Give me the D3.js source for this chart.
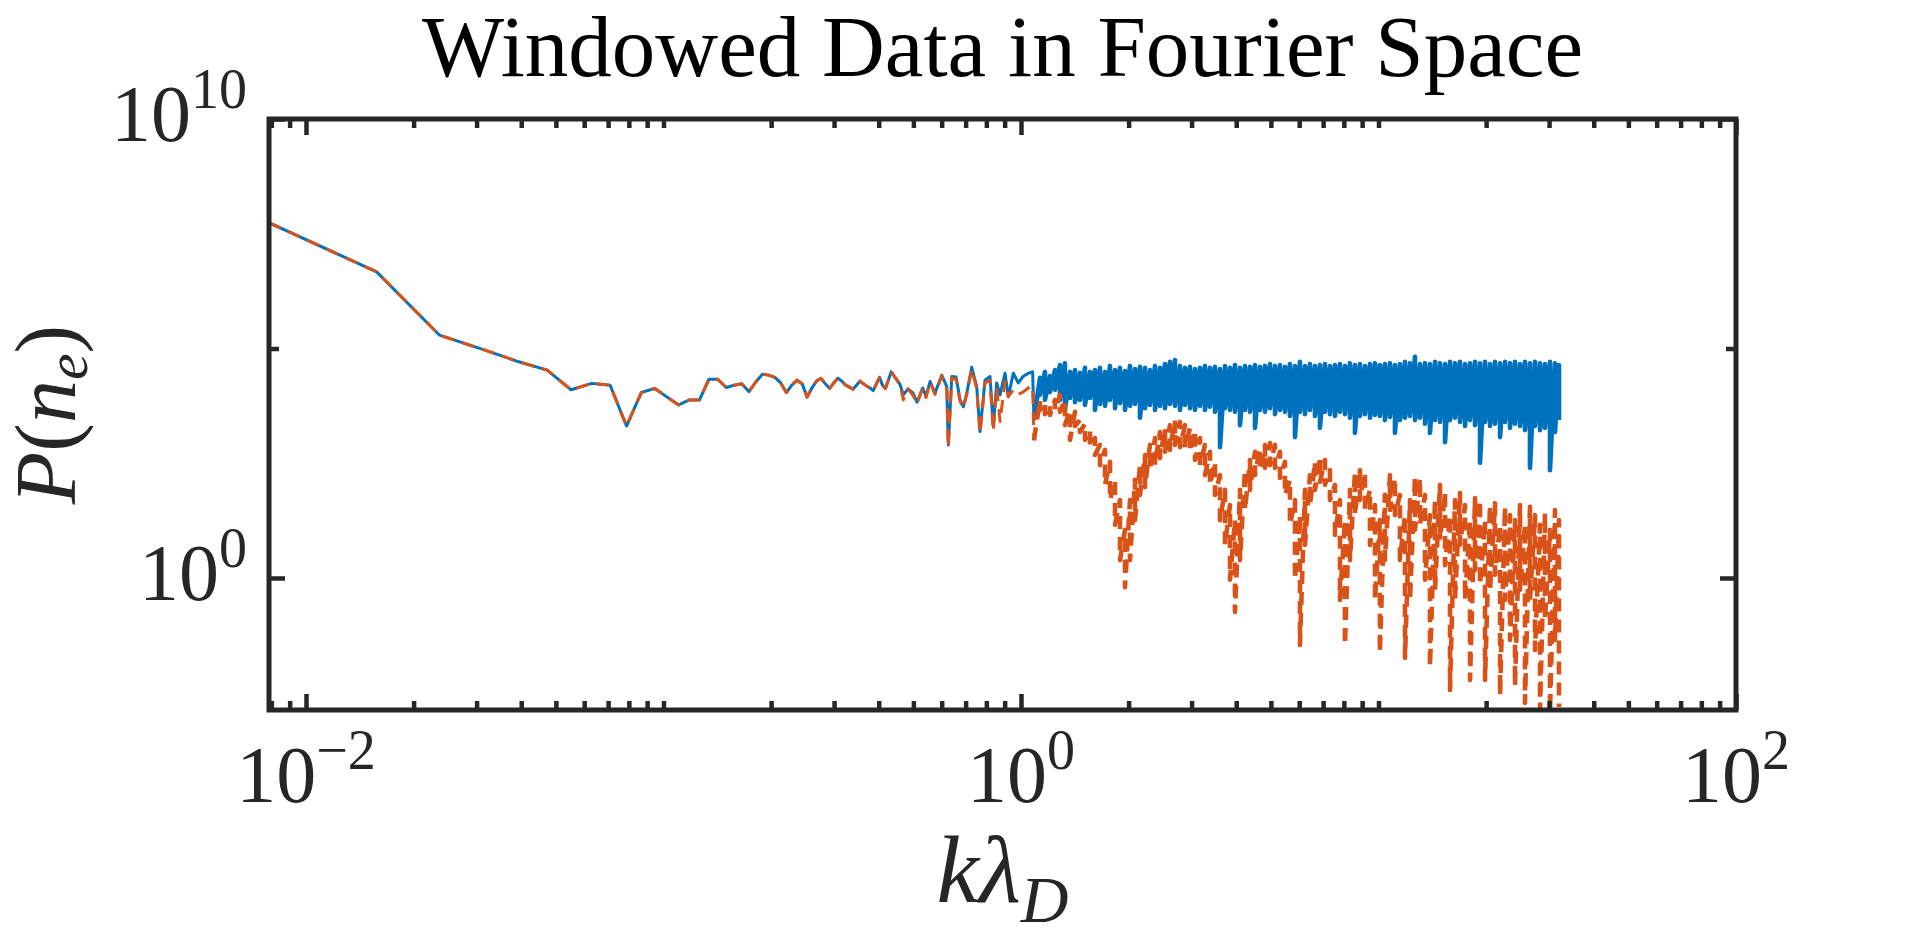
<!DOCTYPE html>
<html>
<head>
<meta charset="utf-8">
<script src="https://cdn.jsdelivr.net/npm/d3@7"></script>
<style>
  body { margin: 0; background: #fff; }
  svg text { font-family: "Liberation Serif", "Times New Roman", serif; fill: #262626; }
</style>
</head>
<body>
<svg width="1920" height="936"></svg>
<script>
// ---- data (k * lambda_D, and log10 of P(n_e)) ----

// low-k part, both curves identical
const sharedK = [0.00788, 0.01576, 0.02364, 0.03152, 0.0394, 0.04728, 0.05516, 0.06304, 0.07092, 0.0788,
  0.08668, 0.09456, 0.1024, 0.1103, 0.1182, 0.1261, 0.134, 0.1418, 0.1497, 0.1576,
  0.1655, 0.1734, 0.1812, 0.1891, 0.197, 0.2049, 0.2128, 0.2206, 0.2285, 0.2364,
  0.2443, 0.2522, 0.26, 0.2679, 0.2758, 0.2837, 0.2916, 0.2994, 0.3073, 0.3152,
  0.3231, 0.331, 0.3388, 0.3467, 0.3546, 0.3625, 0.3704, 0.3782, 0.3861, 0.394,
  0.4019, 0.4098, 0.4176, 0.4255, 0.4334];
const sharedLog10P = [7.74, 6.67, 5.29, 4.97, 4.71, 4.53, 4.10, 4.24, 4.20, 3.31,
  4.04, 4.13, 3.94, 3.77, 3.88, 3.88, 4.33, 4.33, 4.15, 4.20,
  4.23, 4.06, 4.27, 4.44, 4.42, 4.37, 4.25, 4.04, 4.20, 4.31,
  4.23, 3.94, 4.14, 4.29, 4.35, 4.23, 4.13, 4.25, 4.35, 4.29,
  4.20, 4.16, 4.11, 4.20, 4.29, 4.23, 4.18, 4.14, 4.08, 4.23,
  4.37, 4.20, 4.13, 4.31, 4.49];

// middle part, curves start to separate
const midK = [0.4586, 0.4686, 0.4830, 0.4988, 0.5119, 0.5309, 0.5424, 0.5567, 0.5748, 0.6003,
  0.6199, 0.6262, 0.6403, 0.6582, 0.6754, 0.6898, 0.7050, 0.7281, 0.7519, 0.7680,
  0.7932, 0.8191, 0.8366, 0.8551, 0.8737, 0.9020, 0.9215, 0.9517, 0.9826, 1.013,
  1.048, 1.078, 1.087];
const rawMidLog10P = [4.22, 3.99, 4.12, 4.03, 3.83, 4.14, 3.96, 4.28, 4.03, 4.42,
  4.17, 2.90, 4.39, 4.38, 3.88, 3.73, 4.02, 4.59, 4.17, 3.19,
  4.31, 4.39, 3.30, 4.25, 3.99, 4.46, 3.95, 4.46, 4.25, 4.39,
  4.46, 4.49, 3.44];
const windowedMidLog10P = [4.22, 3.88, 4.12, 3.98, 3.80, 4.14, 3.93, 4.26, 4.00, 4.40,
  4.12, 2.85, 4.35, 4.33, 3.85, 3.70, 4.00, 4.55, 4.12, 3.15,
  4.25, 4.30, 3.20, 4.15, 3.41, 4.28, 3.95, 4.10, 4.00, 4.05,
  4.14, 4.18, 3.00];

// high-k part is too dense to read point by point: max / min per bin
const binK = [1.130, 1.167, 1.205, 1.245, 1.285, 1.327, 1.371, 1.416, 1.462, 1.510,
  1.560, 1.610, 1.663, 1.718, 1.774, 1.832, 1.892, 1.954, 2.018, 2.084,
  2.152, 2.223, 2.295, 2.371, 2.448, 2.528, 2.611, 2.696, 2.785, 2.876,
  2.970, 3.067, 3.168, 3.271, 3.378, 3.489, 3.603, 3.721, 3.842, 3.968,
  4.098, 4.232, 4.371, 4.514, 4.661, 4.814, 4.971, 5.134, 5.302, 5.475,
  5.654, 5.839, 6.030, 6.228, 6.431, 6.642, 6.859, 7.084, 7.315, 7.555,
  7.802, 8.057, 8.321, 8.593, 8.874, 9.167, 9.467, 9.777, 10.09, 10.42,
  10.77, 11.12, 11.48, 11.86, 12.25, 12.65, 13.06, 13.49, 13.93, 14.39,
  14.86, 15.35, 15.85, 16.37, 16.90, 17.46, 18.03, 18.62, 19.23, 19.86,
  20.51, 21.18, 21.88, 22.59, 23.33, 24.09, 24.88, 25.69, 26.53, 27.40,
  28.30, 29.22, 30.18, 31.17, 31.98];
const rawHiLog10P = [4.36, 4.49, 4.40, 4.53, 4.64, 4.68, 4.49, 4.53, 4.47, 4.58,
  4.49, 4.53, 4.58, 4.49, 4.62, 4.53, 4.58, 4.51, 4.62, 4.55,
  4.60, 4.58, 4.53, 4.62, 4.58, 4.66, 4.71, 4.75, 4.62, 4.58,
  4.60, 4.55, 4.58, 4.62, 4.58, 4.60, 4.55, 4.62, 4.58, 4.64,
  4.58, 4.62, 4.60, 4.64, 4.60, 4.62, 4.66, 4.62, 4.64, 4.60,
  4.66, 4.62, 4.71, 4.62, 4.66, 4.62, 4.64, 4.66, 4.62, 4.64,
  4.66, 4.62, 4.68, 4.64, 4.66, 4.62, 4.66, 4.68, 4.64, 4.66,
  4.68, 4.64, 4.66, 4.71, 4.68, 4.82, 4.66, 4.68, 4.66, 4.71,
  4.68, 4.66, 4.71, 4.68, 4.71, 4.66, 4.68, 4.71, 4.68, 4.71,
  4.66, 4.71, 4.68, 4.71, 4.68, 4.71, 4.66, 4.71, 4.68, 4.71,
  4.68, 4.66, 4.71, 4.68, 4.64];
const rawLoLog10P = [3.99, 3.88, 4.05, 4.10, 3.88, 3.66, 3.92, 3.83, 3.88, 3.77,
  3.92, 3.66, 3.79, 3.75, 3.88, 3.70, 3.81, 3.66, 3.75, 3.79,
  3.49, 3.70, 3.77, 3.66, 3.75, 3.70, 3.79, 3.75, 3.66, 3.77,
  3.70, 3.66, 3.75, 3.66, 3.73, 3.62, 2.85, 3.70, 3.66, 3.62,
  3.33, 3.66, 3.62, 3.27, 3.66, 3.62, 3.70, 3.57, 3.66, 3.62,
  3.53, 3.07, 3.62, 3.57, 3.66, 3.53, 3.27, 3.62, 3.57, 3.53,
  3.62, 3.57, 3.49, 3.16, 3.53, 3.57, 3.49, 3.55, 3.53, 3.44,
  3.51, 3.16, 3.44, 3.49, 3.53, 3.44, 3.49, 3.36, 3.16, 3.44,
  3.40, 2.96, 3.44, 3.49, 3.40, 3.31, 3.44, 3.33, 2.51, 3.40,
  3.31, 3.36, 3.07, 3.40, 3.27, 3.36, 3.31, 3.22, 2.40, 3.31,
  3.22, 3.27, 2.35, 3.18, 3.44];
const windowedHiLog10P = [3.88, 3.83, 3.77, 3.88, 3.99, 3.88, 3.66, 3.62, 3.44, 3.36,
  3.22, 3.05, 2.90, 2.79, 2.53, 2.14, 1.70, 1.05, 1.70, 2.14,
  2.46, 2.68, 2.90, 3.05, 3.18, 3.27, 3.33, 3.44, 3.40, 3.33,
  3.27, 3.22, 3.05, 2.90, 2.75, 2.53, 2.24, 1.92, 1.59, 1.26,
  1.92, 2.35, 2.57, 2.75, 2.83, 2.90, 2.94, 2.90, 2.75, 2.53,
  2.14, 1.70, 1.37, 1.92, 2.24, 2.53, 2.64, 2.57, 2.35, 2.03,
  1.70, 1.26, 1.92, 2.29, 2.40, 2.31, 1.92, 1.59, 1.26, 1.81,
  2.24, 2.18, 1.81, 1.37, 1.70, 2.20, 2.18, 1.81, 1.37, 1.70,
  2.03, 1.87, 1.37, 1.70, 1.85, 1.59, 1.26, 1.74, 1.70, 1.26,
  1.59, 1.63, 1.16, 1.55, 1.37, 1.26, 1.59, 1.16, 1.55, 1.37,
  1.16, 1.42, 1.05, 1.48, 1.26];
const windowedLoLog10P = [3.66, 3.57, 3.55, 3.66, 3.62, 3.33, 3.01, 3.31, 3.18, 3.01,
  2.85, 2.68, 2.46, 2.03, 1.70, 1.16, 0.39, -0.20, 0.39, 1.26,
  1.81, 1.98, 2.35, 2.46, 2.61, 2.75, 2.79, 2.90, 2.85, 2.83,
  2.75, 2.57, 2.46, 2.24, 2.03, 1.81, 1.26, 0.72, -0.04, -0.74,
  0.39, 1.48, 1.92, 2.24, 2.35, 2.40, 2.46, 2.40, 2.18, 1.81,
  1.16, -0.04, -1.46, 0.72, 1.59, 1.92, 2.09, 2.03, 1.70, 0.94,
  -0.48, -1.46, 0.39, 1.37, 1.70, 1.48, 0.72, -0.48, -1.63, 0.39,
  1.48, 1.37, 0.39, -1.74, -0.48, 1.05, 1.16, -0.04, -1.94, -0.26,
  0.83, 0.28, -2.44, -0.48, 0.72, -0.48, -2.22, 0.17, -0.15, -2.22,
  -0.26, 0.07, -2.55, -0.48, -1.35, -2.35, -0.26, -2.72, -0.48, -1.57,
  -2.88, -0.92, -2.92, -1.35, -2.81];

// axes
const xDomain = [0.00788, 100];
const yDomain = [0.00133, 1e10];
const xMajorTicks = [0.01, 1, 100];
const xMinorTicks = [0.008, 0.009, 0.02, 0.03, 0.04, 0.05, 0.06, 0.07, 0.08, 0.09,
  0.1, 0.2, 0.3, 0.4, 0.5, 0.6, 0.7, 0.8, 0.9,
  2, 3, 4, 5, 6, 7, 8, 9, 10, 20, 30, 40, 50, 60, 70, 80, 90];
const xTickExponents = ['\u22122', '0', '2'];
const yLabelTicks = [1, 1e10];
const yTickExponents = ['0', '10'];
const yOtherTicks = [1e5];

const titleText = 'Windowed Data in Fourier Space';

// ---- layout ----
const margin = { left: 269, right: 184, top: 119, bottom: 226 };
const svg = d3.select('svg');
const width = +svg.attr('width');
const height = +svg.attr('height');
const innerWidth = width - margin.left - margin.right;
const innerHeight = height - margin.top - margin.bottom;
const axisColor = '#262626';

const g = svg.append('g')
  .attr('transform', `translate(${margin.left},${margin.top})`);

const xScale = d3.scaleLog().domain(xDomain).range([0, innerWidth]);
const yScale = d3.scaleLog().domain(yDomain).range([innerHeight, 0]);

g.append('clipPath').attr('id', 'plot-clip')
  .append('rect')
  .attr('width', innerWidth)
  .attr('height', innerHeight);

const points = (ks, logs) => ks.map((k, i) => ({ k, p: Math.pow(10, logs[i]) }));
const binPoints = (hi, lo) => binK.flatMap((k, i) => [
  { k, p: Math.pow(10, hi[i]) },
  { k, p: Math.pow(10, lo[i]) }
]);

// resolved part and the dense (binned) part of each curve
const series = [
  {
    color: '#0072BD', dash: null,
    resolved: points(sharedK, sharedLog10P).concat(points(midK, rawMidLog10P)),
    dense: binPoints(rawHiLog10P, rawLoLog10P)
  },
  {
    color: '#D95319', dash: '13,8',
    resolved: points(sharedK, sharedLog10P).concat(points(midK, windowedMidLog10P)),
    dense: binPoints(windowedHiLog10P, windowedLoLog10P)
  }
];

const line = d3.line()
  .x(d => xScale(d.k))
  .y(d => yScale(d.p));

const lines = g.append('g').attr('clip-path', 'url(#plot-clip)');
series.forEach(s => {
  const last = s.resolved[s.resolved.length - 1];
  lines.append('path')
    .datum(s.resolved)
    .attr('fill', 'none')
    .attr('stroke', s.color)
    .attr('stroke-width', 3)
    .attr('stroke-linejoin', 'round')
    .attr('stroke-dasharray', s.dash)
    .attr('d', line);
  lines.append('path')
    .datum([last].concat(s.dense))
    .attr('fill', 'none')
    .attr('stroke', s.color)
    .attr('stroke-width', 4.6)
    .attr('stroke-linejoin', 'round')
    .attr('stroke-dasharray', s.dash)
    .attr('d', line);
});

// ticks, all pointing inwards
const tickAxis = (axis, values, size, transform) => {
  const a = g.append('g')
    .attr('transform', transform)
    .call(axis.tickValues(values).tickSize(-size).tickSizeOuter(0).tickFormat(''));
  a.select('.domain').remove();
  a.selectAll('.tick line')
    .attr('stroke', axisColor)
    .attr('stroke-width', 4.5);
};
tickAxis(d3.axisBottom(xScale), xMinorTicks, 9, `translate(0,${innerHeight})`);
tickAxis(d3.axisBottom(xScale), xMajorTicks, 16, `translate(0,${innerHeight})`);
tickAxis(d3.axisTop(xScale), xMinorTicks, 9, 'translate(0,0)');
tickAxis(d3.axisTop(xScale), xMajorTicks, 16, 'translate(0,0)');
tickAxis(d3.axisLeft(yScale), yLabelTicks, 16, 'translate(0,0)');
tickAxis(d3.axisLeft(yScale), yOtherTicks, 10, 'translate(0,0)');
tickAxis(d3.axisRight(yScale), yLabelTicks, 16, `translate(${innerWidth},0)`);
tickAxis(d3.axisRight(yScale), yOtherTicks, 10, `translate(${innerWidth},0)`);

g.append('rect')
  .attr('width', innerWidth)
  .attr('height', innerHeight)
  .attr('fill', 'none')
  .attr('stroke', axisColor)
  .attr('stroke-width', 5);

// tick labels as 10^n
const powerLabel = (sel, exp) => {
  sel.append('tspan').text('10');
  sel.append('tspan')
    .attr('font-size', 56)
    .attr('dy', -33)
    .text(exp);
};

xMajorTicks.forEach((v, i) => {
  g.append('text')
    .attr('x', xScale(v))
    .attr('y', innerHeight + 92)
    .attr('text-anchor', 'middle')
    .attr('font-size', 80)
    .call(powerLabel, xTickExponents[i]);
});

yLabelTicks.forEach((v, i) => {
  g.append('text')
    .attr('x', -22)
    .attr('y', yScale(v) + 22)
    .attr('text-anchor', 'end')
    .attr('font-size', 80)
    .call(powerLabel, yTickExponents[i]);
});

// title and axis labels
svg.append('text')
  .attr('x', margin.left + innerWidth / 2)
  .attr('y', 76)
  .attr('text-anchor', 'middle')
  .attr('font-size', 87)
  .style('fill', '#000')
  .text(titleText);

const xLabel = svg.append('text')
  .attr('x', margin.left + innerWidth / 2)
  .attr('y', 902)
  .attr('text-anchor', 'middle')
  .attr('font-size', 96)
  .attr('font-style', 'italic');
xLabel.append('tspan').text('k\u03BB');
xLabel.append('tspan').attr('font-size', 66).attr('dy', 20).text('D');

const yLabel = svg.append('text')
  .attr('transform', `translate(75,${margin.top + innerHeight / 2}) rotate(-90)`)
  .attr('text-anchor', 'middle')
  .attr('font-size', 86)
  .attr('font-style', 'italic');
yLabel.append('tspan').text('P');
yLabel.append('tspan').attr('font-style', 'normal').text('(');
yLabel.append('tspan').text('n');
yLabel.append('tspan').attr('font-size', 60).attr('dy', 12).text('e');
yLabel.append('tspan').attr('font-style', 'normal').attr('dy', -12).text(')');
</script>
</body>
</html>
